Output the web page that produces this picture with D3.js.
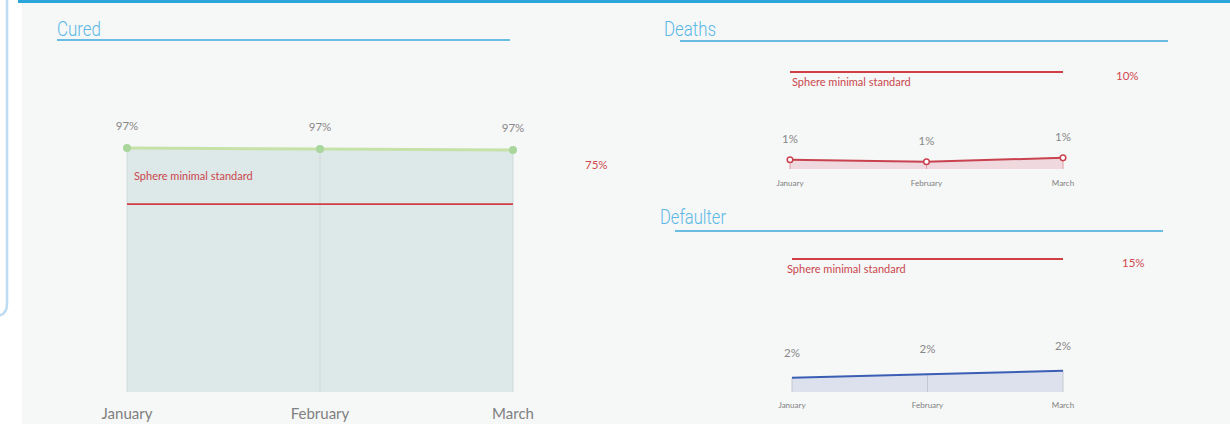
<!DOCTYPE html>
<script src="https://d3js.org/d3.v7.min.js"></script>
<style>
body { margin: 0; background: #fff; }
svg text { font-family: Lato, "Noto Sans", sans-serif; }
.title { font-family: Roboto, "DejaVu Sans", sans-serif !important; font-weight: 300; font-size: 21px; fill: #5ab7e6; }
</style>
<div id="svg_container"></div>
<script>
var months = ["January", "February", "March"];
var curedValues = [97.4, 97.0, 96.6];
var deathsValues = [0.95, 0.75, 1.15];
var defaulterValues = [1.6, 2.0, 2.4];
var standards = { cured: 75, deaths: 10, defaulter: 15 };
var standardLabel = "Sphere minimal standard";

var svg = d3.select("#svg_container").append("svg").attr("width", 1230).attr("height", 424);

// page chrome
svg.append("rect").attr("x", 22).attr("y", 0).attr("width", 1208).attr("height", 424).attr("fill", "#f6f7f7");
svg.append("rect").attr("x", 18).attr("y", 0).attr("width", 1212).attr("height", 3).attr("fill", "#2aa6da");
svg.append("path").attr("d", "M7,0 V304 Q7,316 -5,316").attr("fill", "none").attr("stroke", "#bddbf2").attr("stroke-width", 2.5);

function title(txt, w, x, y, x1, x2, ly) {
  svg.append("text").attr("class", "title").attr("x", x).attr("y", y)
    .attr("textLength", w).attr("lengthAdjust", "spacingAndGlyphs").text(txt);
  svg.append("line").attr("x1", x1).attr("x2", x2).attr("y1", ly).attr("y2", ly)
    .attr("stroke", "#3ca9dd").attr("stroke-width", 1.3);
}

function drawChart(o) {
  var x = d3.scalePoint().domain(months).range(o.xr);
  var y = d3.scaleLinear().domain([0, o.ymax]).range(o.yr);
  var pts = months.map(function(m, i) { return { m: m, v: o.values[i] }; });
  var g = svg.append("g");

  g.append("path").datum(pts).attr("fill", o.fill)
    .attr("d", d3.area().x(function(d) { return x(d.m); }).y0(y(0)).y1(function(d) { return y(d.v); }));

  g.selectAll(".grid").data(pts).enter().append("line")
    .attr("x1", function(d) { return x(d.m); }).attr("x2", function(d) { return x(d.m); })
    .attr("y1", y(0)).attr("y2", function(d) { return y(d.v); })
    .attr("stroke", o.grid).attr("stroke-width", 1);

  // standard line
  var sy = y(o.standard);
  g.append("line").attr("x1", o.xr[0]).attr("x2", o.xr[1]).attr("y1", sy).attr("y2", sy)
    .attr("stroke", "#cf3f44").attr("stroke-width", 1.8);
  g.append("text").attr("x", o.stdX).attr("y", sy + o.stdDy).attr("font-size", 11).attr("fill", "#c9474c").text(standardLabel);
  g.append("text").attr("x", o.pctX).attr("y", o.pctY).attr("font-size", 11.5).attr("fill", "#cf4a4f").text(o.standard + "%");

  g.append("path").datum(pts).attr("fill", "none").attr("stroke", o.line).attr("stroke-width", o.lineW)
    .attr("d", d3.line().x(function(d) { return x(d.m); }).y(function(d) { return y(d.v); }));

  if (o.dot) {
    g.selectAll(".dot").data(pts).enter().append("circle")
      .attr("cx", function(d) { return x(d.m); }).attr("cy", function(d) { return y(d.v); })
      .attr("r", o.dot.r).attr("fill", o.dot.fill).attr("stroke", o.dot.stroke).attr("stroke-width", 1.5);
  }

  g.selectAll(".val").data(pts).enter().append("text")
    .attr("x", function(d) { return x(d.m); }).attr("y", function(d) { return y(d.v) - o.valDy; })
    .attr("text-anchor", "middle").attr("font-size", 11.5).attr("fill", "#888")
    .text(function(d) { return Math.round(d.v) + "%"; });

  g.selectAll(".mon").data(months).enter().append("text")
    .attr("x", function(d) { return x(d); }).attr("y", o.monY)
    .attr("text-anchor", "middle").attr("font-size", o.monSize).attr("fill", "#808080")
    .text(function(d) { return d; });
}

title("Cured", 44, 57, 36, 57, 510, 40);
drawChart({
  values: curedValues, standard: standards.cured, ymax: 100,
  xr: [127, 513], yr: [392, 141.5],
  fill: "#dde8e8", grid: "#cfdcdc", line: "#c6e2a8", lineW: 3,
  dot: { r: 4, fill: "#a8d69d", stroke: "none" },
  stdX: 134, stdDy: -24, pctX: 585, pctY: 169,
  valDy: 18, monY: 419, monSize: 15
});

title("Deaths", 52, 664, 36, 680, 1168, 41);
drawChart({
  values: deathsValues, standard: standards.deaths, ymax: 10,
  xr: [790, 1063], yr: [169, 72],
  fill: "#efd9df", grid: "#e39ca8", line: "#c8434f", lineW: 2,
  dot: { r: 2.8, fill: "#fff", stroke: "#c8434f" },
  stdX: 792, stdDy: 14, pctX: 1116, pctY: 80,
  valDy: 17, monY: 186, monSize: 8
});

title("Defaulter", 66, 660, 224, 675, 1163, 231);
drawChart({
  values: defaulterValues, standard: standards.defaulter, ymax: 15,
  xr: [792, 1063], yr: [392, 259],
  fill: "#dde1ee", grid: "#c4c8d2", line: "#3a5eb4", lineW: 2,
  dot: null,
  stdX: 787, stdDy: 14, pctX: 1122, pctY: 267,
  valDy: 21, monY: 408, monSize: 8
});
</script>
